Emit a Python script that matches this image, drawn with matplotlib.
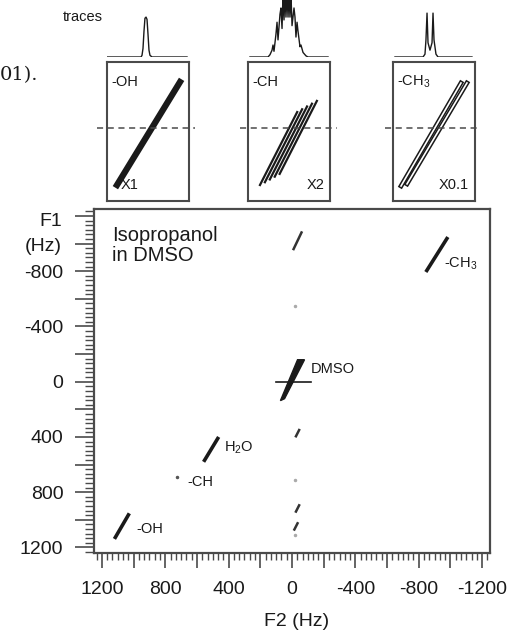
import matplotlib
matplotlib.use('Agg')
import matplotlib.pyplot as plt
from matplotlib.ticker import MultipleLocator, FuncFormatter

plt.rcParams['font.family'] = ['Liberation Sans', 'DejaVu Sans']
plt.rcParams['axes.unicode_minus'] = False
plt.rcParams['mathtext.default'] = 'regular'

# --- main 2D map (Hz) ---
# diagonal streaks: start/end in F2 and F1
peak_names = ['-CH$_3$', 'H$_2$O', '-OH']
peak_f2 = [(-845, -984), (558, 463), (1121, 1027)]
peak_f1 = [(-794, -1047), (580, 400), (1138, 953)]
label_f2 = [-961, 432, 980]
label_f1 = [-852, 479, 1066]

ch_f2, ch_f1 = 727, 688
ch_label_f2, ch_label_f1 = 663, 729

dmso_f2 = [73, -35, -79, 47]
dmso_f1 = [137, -159, -159, 123]
dmso_line_f2 = [104, -117]
dmso_line_f1 = [0, 0]
dmso_label_f2, dmso_label_f1 = -117, -89

# artefact streaks along F2 ~ 0
art_f2 = [(-10, -60), (-25, -45), (-25, -45), (-15, -35)]
art_f1 = [(-960, -1080), (395, 350), (940, 895), (1070, 1025)]
faint_f2 = [-22, -22, -22]
faint_f1 = [-551, 713, 1112]

# --- insets (box units 0..1) ---
inset_names = ['-OH', '-CH', '-CH$_3$']
inset_scale = ['X1', 'X2', 'X0.1']
inset_lines_u = [
    [(0.122, 0.890)],
    [(0.146, 0.600), (0.206, 0.660), (0.266, 0.720), (0.326, 0.780), (0.386, 0.840)],
    [(0.098, 0.829), (0.171, 0.902)],
]
inset_lines_v = [
    [(0.115, 0.856)],
    [(0.115, 0.640), (0.135, 0.660), (0.155, 0.680), (0.175, 0.700), (0.195, 0.720)],
    [(0.108, 0.849), (0.123, 0.849)],
]
dash_u = [(-0.122, 1.073), (-0.098, 1.085), (-0.098, 1.061)]
dash_v = 0.525

# traces above insets
t1_u = [0.0, 0.415, 0.427, 0.439, 0.451, 0.463, 0.476, 0.488, 0.500, 0.512, 0.524, 0.549, 0.976]
t1_v = [0, 0, 0.03, 0.15, 0.45, 0.68, 0.70, 0.66, 0.40, 0.12, 0.03, 0, 0]
t2_u = [0.024, 0.244, 0.268, 0.293, 0.305, 0.317, 0.341, 0.354, 0.366, 0.390, 0.402,
        0.415, 0.427, 0.439, 0.451, 0.463, 0.476, 0.488, 0.500, 0.512, 0.524, 0.537,
        0.561, 0.573, 0.585, 0.598, 0.610, 0.634, 0.646, 0.671, 0.707, 0.732, 0.976]
t2_v = [0, 0, 0.04, 0.12, 0.21, 0.10, 0.40, 0.61, 0.30, 0.75, 0.86,
        0.50, 1.1, 0.65, 1.1, 0.70, 1.1, 0.70, 1.1, 0.70, 1.1, 0.55,
        0.86, 0.70, 0.35, 0.61, 0.45, 0.18, 0.21, 0.08, 0.02, 0, 0]
t3_u = [0.024, 0.366, 0.390, 0.402, 0.415, 0.427, 0.451, 0.476, 0.488, 0.500, 0.524, 0.549, 0.963]
t3_v = [0, 0, 0.05, 0.30, 0.77, 0.25, 0.12, 0.25, 0.77, 0.30, 0.05, 0, 0]
traces = [(t1_u, t1_v), (t2_u, t2_v), (t3_u, t3_v)]

ink = '#1a1a1a'
frame = '#4a4a4a'

fig = plt.figure(figsize=(5.08, 6.30), dpi=100)

ax = fig.add_axes([94/508, 77/630, 396/508, 344/630])
ax.set_xlim(1250, -1250)
ax.set_ylim(1240, -1250)

for (xa, xb), (ya, yb) in zip(peak_f2, peak_f1):
    ax.plot([xa, xb], [ya, yb], color=ink, lw=2.6, solid_capstyle='butt')
for name, lx, ly in zip(peak_names, label_f2, label_f1):
    ax.text(lx, ly, name, fontsize=10.5, color=ink, ha='left', va='center')

ax.plot([ch_f2], [ch_f1], marker='.', ms=3, color='#555')
ax.text(ch_label_f2, ch_label_f1, '-CH', fontsize=10.5, color=ink, ha='left', va='center')

ax.fill(dmso_f2, dmso_f1, color=ink, lw=1)
ax.plot(dmso_line_f2, dmso_line_f1, color=ink, lw=1.2)
ax.text(dmso_label_f2, dmso_label_f1, 'DMSO', fontsize=10.5, color=ink, ha='left', va='center')

for (xa, xb), (ya, yb) in zip(art_f2, art_f1):
    ax.plot([xa, xb], [ya, yb], color='#333', lw=1.8)
ax.plot(faint_f2, faint_f1, ls='none', marker='.', ms=3, color='#aaa')

ax.text(1136, -1125, 'Isopropanol\nin DMSO', fontsize=14.5, color=ink,
        ha='left', va='top', linespacing=1.05)

ax.xaxis.set_major_locator(MultipleLocator(200))
ax.xaxis.set_minor_locator(MultipleLocator(200/6))
ax.yaxis.set_major_locator(MultipleLocator(200))
ax.yaxis.set_minor_locator(MultipleLocator(200/6))
ax.xaxis.set_major_formatter(FuncFormatter(lambda v, p: '%d' % v if round(v) % 400 == 0 else ''))
ax.yaxis.set_major_formatter(FuncFormatter(lambda v, p: '%d' % v if round(v) % 400 == 0 and v > -1000 else ''))
ax.tick_params(axis='x', which='major', length=11, width=1.2, pad=9, labelsize=14, colors=frame, labelcolor=ink)
ax.tick_params(axis='x', which='minor', length=5, width=1.0, colors=frame)
ax.tick_params(axis='y', which='major', length=14, width=1.2, pad=8, labelsize=14, colors=frame, labelcolor=ink)
ax.tick_params(axis='y', which='minor', length=6.5, width=1.0, colors=frame)
for s in ax.spines.values():
    s.set_linewidth(1.6)
    s.set_color(frame)

fig.text(297/508, 9/630, 'F2 (Hz)', fontsize=14, color=ink, ha='center', va='center')
fig.text(62/508, 1 - 221/630, 'F1', fontsize=14, color=ink, ha='right', va='center')
fig.text(62/508, 1 - 247/630, '(Hz)', fontsize=14, color=ink, ha='right', va='center')

# insets and traces
box_x0 = [107, 248, 393]
for i, x0 in enumerate(box_x0):
    bx = fig.add_axes([x0/508, 1 - 201/630, 82/508, 139/630])
    bx.set_xlim(0, 1)
    bx.set_ylim(0, 1)
    bx.set_xticks([])
    bx.set_yticks([])
    for s in bx.spines.values():
        s.set_linewidth(1.5)
        s.set_color(frame)
    for (ua, ub), (va, vb) in zip(inset_lines_u[i], inset_lines_v[i]):
        if i == 0:
            bx.plot([ua, ub], [va, vb], color=ink, lw=4.5)
        elif i == 1:
            bx.plot([ua, ub], [va, vb], color=ink, lw=1.6)
        else:
            bx.plot([ua, ub], [va, vb], color=ink, lw=3.4)
            bx.plot([ua, ub], [va, vb], color='white', lw=1.2)
    bx.plot(dash_u[i], [dash_v, dash_v], color=frame, lw=1.1, ls=(0, (4, 3)), clip_on=False)
    bx.text(0.05, 0.855, inset_names[i], fontsize=10.5, color=ink, ha='left', va='center')
    if i == 0:
        bx.text(0.17, 0.115, inset_scale[i], fontsize=10.5, color=ink, ha='left', va='center')
    else:
        bx.text(0.93, 0.115, inset_scale[i], fontsize=10.5, color=ink, ha='right', va='center')

    tx = fig.add_axes([x0/508, 1 - 57/630, 82/508, 57/630])
    tx.set_xlim(0, 1)
    tx.set_ylim(0, 1)
    tx.axis('off')
    tx.plot(traces[i][0], traces[i][1], color=ink, lw=1.0)

fig.text(63/508, 1 - 17/630, 'traces', fontsize=10.5, color=ink, ha='left', va='center')
fig.text(0, 1 - 75/630, '01).', fontsize=14, family='DejaVu Serif', color=ink, ha='left', va='center')

fig.savefig('out.png', dpi=100)
